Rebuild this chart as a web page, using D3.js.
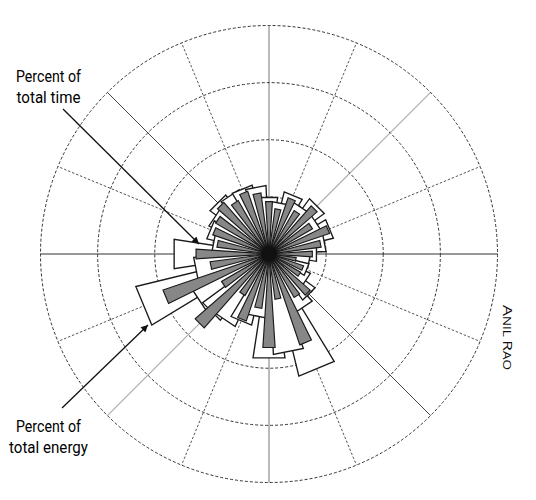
<!DOCTYPE html>
<html>
<head>
<meta charset="utf-8">
<script src="https://cdn.jsdelivr.net/npm/d3@7"></script>
<style>
  html, body { margin: 0; padding: 0; background: #fff; }
  svg { display: block; }
</style>
</head>
<body>
<svg id="chart" width="536" height="500"></svg>
<script>
// 32 compass directions (degrees clockwise from north)
const directions = d3.range(32).map(i => i * 11.25);

// Percent of total energy by direction (white outlined wedges)
const energyPct = [
  2.5, 2.3, 2.8, 2.5, 3.0, 2.5, 2.9, 2.5,
  2.1, 1.8, 1.8, 2.0, 2.5, 2.8, 5.5, 4.4,
  4.6, 2.8, 3.2, 3.5, 3.6, 3.7, 6.0, 3.3,
  4.2, 2.5, 2.8, 2.9, 3.2, 3.1, 3.1, 3.0
];

// Percent of total time by direction (gray wedges)
const timePct = [
  2.3, 2.0, 2.6, 2.2, 2.8, 2.2, 2.8, 2.3,
  1.9, 1.2, 1.6, 1.6, 2.4, 2.2, 4.2, 2.0,
  4.1, 2.4, 3.1, 2.1, 4.3, 2.4, 4.9, 2.6,
  3.2, 2.3, 2.6, 2.7, 3.0, 2.7, 2.9, 2.7
];

// Radial rings (percent)
const ringTicks = [2.5, 5, 7.5, 10];
// Grid spokes (degrees)
const spokeAngles = d3.range(16).map(i => i * 22.5);

const labels = {
  time: ["Percent of", "total time"],
  energy: ["Percent of", "total energy"]
};

const svg = d3.select("#chart");
const cx = 269, cy = 254, R = 228.5;
const g = svg.append("g").attr("transform", `translate(${cx},${cy})`);

const rScale = d3.scaleLinear().domain([0, 10]).range([0, R]);
const aScale = d3.scaleLinear().domain([0, 360]).range([0, 2 * Math.PI]);

// ---- grid: spokes
function spokeStyle(deg) {
  const m = ((deg % 360) + 360) % 360;
  if (m === 0 || m === 180) return { stroke: "#777", dash: null, w: 1 };
  if (m === 90 || m === 270) return { stroke: "#333", dash: null, w: 1 };
  if (m === 45 || m === 225) return { stroke: "#aaa", dash: null, w: 1.1 };
  if (m === 135 || m === 315) return { stroke: "#444", dash: null, w: 1 };
  return { stroke: "#444", dash: "2.5,1.8", w: 0.9 };
}
const lineR = d3.lineRadial().angle(d => d[0]).radius(d => d[1]);
g.append("g").selectAll("path").data(spokeAngles).join("path")
  .attr("d", d => lineR([[aScale(d), 0], [aScale(d), rScale(10)]]))
  .attr("fill", "none")
  .attr("stroke", d => spokeStyle(d).stroke)
  .attr("stroke-width", d => spokeStyle(d).w)
  .attr("stroke-dasharray", d => spokeStyle(d).dash);

// ---- grid: rings
g.append("g").selectAll("circle").data(ringTicks).join("circle")
  .attr("r", d => rScale(d))
  .attr("fill", "none")
  .attr("stroke", "#333")
  .attr("stroke-width", 1)
  .attr("stroke-dasharray", "3,2");

// ---- wedges
const wedge = d3.lineRadial()
  .angle(d => d[0]).radius(d => d[1])
  .curve(d3.curveLinearClosed);
function wedgePath(deg, val, widthDeg) {
  const a = aScale(deg), h = aScale(widthDeg) / 2, r = rScale(val);
  return wedge([[a, 0], [a - h, r], [a + h, r]]);
}

const energyData = directions.map((d, i) => ({ dir: d, v: energyPct[i] }))
  .sort((a, b) => b.v - a.v);
g.append("g").selectAll("path").data(energyData).join("path")
  .attr("d", d => wedgePath(d.dir, d.v, 17.5))
  .attr("fill", "#fff")
  .attr("stroke", "#1a1a1a")
  .attr("stroke-width", 1.35)
  .attr("stroke-linejoin", "miter");

const timeData = directions.map((d, i) => ({ dir: d, v: timePct[i] }))
  .sort((a, b) => b.v - a.v);
g.append("g").selectAll("path").data(timeData).join("path")
  .attr("d", d => wedgePath(d.dir, d.v, 7.5))
  .attr("fill", "#878787")
  .attr("stroke", "#1a1a1a")
  .attr("stroke-width", 1.15);

// hub where all wedges converge
g.append("circle").attr("r", 8).attr("fill", "#111");

// ---- annotations
const defs = svg.append("defs");
defs.append("marker")
  .attr("id", "arrow")
  .attr("viewBox", "0 0 10 10")
  .attr("refX", 10).attr("refY", 5)
  .attr("markerWidth", 9).attr("markerHeight", 7)
  .attr("markerUnits", "userSpaceOnUse")
  .attr("orient", "auto")
  .append("path").attr("d", "M0,0 L10,5 L0,10 Z").attr("fill", "#111");

function addLabel(lines, x, y0, lineH, widths) {
  const t = svg.append("text")
    .attr("font-family", "Roboto, 'Open Sans', sans-serif")
    .attr("font-size", 16.5)
    .attr("fill", "#000")
    .attr("text-anchor", "middle");
  lines.forEach((s, i) => {
    t.append("tspan").attr("x", x).attr("y", y0 + i * lineH)
      .attr("textLength", widths[i]).attr("lengthAdjust", "spacingAndGlyphs")
      .text(s);
  });
}
addLabel(labels.time, 48.5, 82, 20.5, [65, 64]);
addLabel(labels.energy, 48.5, 432, 21, [65, 79]);

svg.append("line")
  .attr("x1", 63).attr("y1", 109).attr("x2", 199).attr("y2", 244)
  .attr("stroke", "#111").attr("stroke-width", 1.3)
  .attr("marker-end", "url(#arrow)");
svg.append("line")
  .attr("x1", 62).attr("y1", 408).attr("x2", 148).attr("y2", 325)
  .attr("stroke", "#111").attr("stroke-width", 1.3)
  .attr("marker-end", "url(#arrow)");

// credit
const credit = svg.append("text")
  .attr("transform", "translate(503,305) rotate(90)")
  .attr("font-family", "'Open Sans', 'DejaVu Sans', sans-serif")
  .attr("fill", "#111")
  .attr("textLength", 65)
  .attr("lengthAdjust", "spacingAndGlyphs");
credit.append("tspan").attr("font-size", 13.5).text("A");
credit.append("tspan").attr("font-size", 10.5).text("NIL ");
credit.append("tspan").attr("font-size", 13.5).text("R");
credit.append("tspan").attr("font-size", 10.5).text("AO");
</script>
</body>
</html>
